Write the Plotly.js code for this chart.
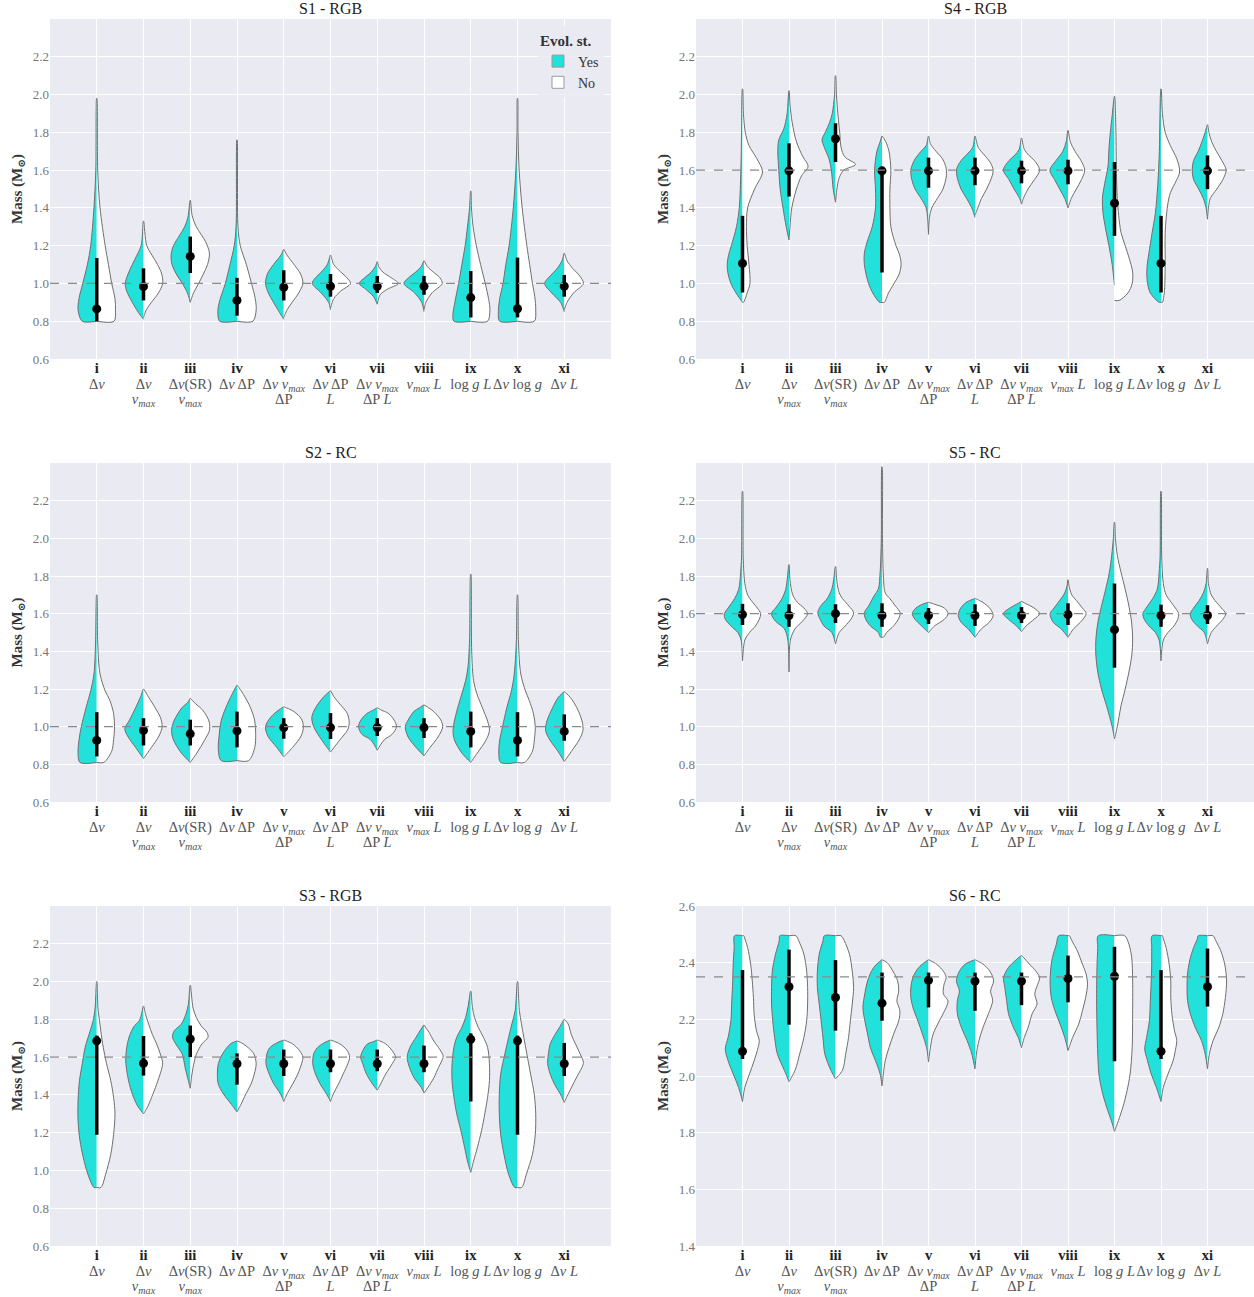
<!DOCTYPE html>
<html>
<head>
<meta charset="utf-8">
<script src="https://cdn.plot.ly/plotly-3.0.1.min.js"></script>
<style>html,body{margin:0;padding:0;background:#fff;}#chart{width:1254px;height:1297px;}</style>
</head>
<body>
<div id="chart"></div>
<script>
// ---------- categories / tick labels ----------
const categories = ['i','ii','iii','iv','v','vi','vii','viii','ix','x','xi'];
const categoryVars = [
  ['Δ<i>ν</i>'],
  ['Δ<i>ν</i>', '<i>ν<sub>max</sub></i>'],
  ['Δ<i>ν</i>(SR)', '<i>ν<sub>max</sub></i>'],
  ['Δ<i>ν</i> ΔP'],
  ['Δ<i>ν</i> <i>ν<sub>max</sub></i>', 'ΔP'],
  ['Δ<i>ν</i> ΔP', '<i>L</i>'],
  ['Δ<i>ν</i> <i>ν<sub>max</sub></i>', 'ΔP <i>L</i>'],
  ['<i>ν<sub>max</sub></i> <i>L</i>'],
  ['log <i>g</i> <i>L</i>'],
  ['Δ<i>ν</i> log <i>g</i>'],
  ['Δ<i>ν</i> <i>L</i>']
];
const seriesNames = ['Yes', 'No'];

// ---------- data: half-violin profiles [mass, half-width] ----------
// S1 - RGB
const S1_yes = [
  [[0.80,0.31],[0.86,0.40],[0.92,0.38],[1.0,0.30],[1.1,0.2],[1.2,0.13],[1.4,0.06],[1.6,0.02],[1.98,0.003]],
  [[0.81,0.0],[0.85,0.12],[0.9,0.24],[0.96,0.36],[1.0,0.39],[1.05,0.33],[1.1,0.24],[1.15,0.14],[1.2,0.05],[1.33,0.003]],
  [[0.9,0.0],[0.95,0.06],[1.0,0.17],[1.05,0.3],[1.1,0.39],[1.15,0.41],[1.2,0.36],[1.25,0.24],[1.3,0.12],[1.35,0.05],[1.44,0.003]],
  [[0.8,0.37],[0.85,0.41],[0.9,0.38],[1.0,0.25],[1.1,0.15],[1.2,0.06],[1.3,0.02],[1.76,0.003]],
  [[0.81,0.0],[0.85,0.1],[0.9,0.22],[0.95,0.33],[1.0,0.39],[1.05,0.35],[1.1,0.22],[1.15,0.06],[1.18,0.003]],
  [[0.86,0.0],[0.9,0.04],[0.95,0.2],[1.0,0.39],[1.03,0.32],[1.06,0.2],[1.1,0.07],[1.15,0.003]],
  [[0.89,0.0],[0.93,0.08],[0.97,0.25],[1.0,0.385],[1.03,0.27],[1.06,0.13],[1.09,0.04],[1.115,0.003]],
  [[0.85,0.0],[0.9,0.05],[0.95,0.2],[1.0,0.43],[1.03,0.33],[1.06,0.18],[1.09,0.06],[1.12,0.003]],
  [[0.8,0.36],[0.84,0.38],[0.9,0.34],[1.0,0.26],[1.1,0.19],[1.2,0.12],[1.3,0.07],[1.4,0.025],[1.49,0.003]],
  [[0.8,0.38],[0.85,0.41],[0.92,0.38],[1.0,0.31],[1.1,0.25],[1.2,0.18],[1.4,0.09],[1.6,0.035],[1.8,0.01],[1.98,0.003]],
  [[0.85,0.0],[0.9,0.08],[0.95,0.27],[1.0,0.42],[1.04,0.3],[1.08,0.15],[1.12,0.05],[1.16,0.003]]
];
const S1_no = [
  [[0.80,0.37],[0.86,0.40],[0.92,0.39],[1.0,0.32],[1.1,0.25],[1.2,0.18],[1.4,0.07],[1.6,0.02],[1.98,0.003]],
  [[0.82,0.0],[0.86,0.06],[0.9,0.17],[0.95,0.32],[1.0,0.41],[1.05,0.39],[1.1,0.3],[1.15,0.18],[1.2,0.07],[1.33,0.003]],
  [[0.9,0.0],[0.95,0.07],[1.0,0.18],[1.05,0.28],[1.1,0.37],[1.16,0.41],[1.22,0.33],[1.3,0.13],[1.36,0.04],[1.44,0.003]],
  [[0.8,0.34],[0.86,0.41],[0.92,0.39],[1.0,0.31],[1.1,0.2],[1.2,0.07],[1.3,0.02],[1.76,0.003]],
  [[0.82,0.0],[0.86,0.07],[0.9,0.18],[0.95,0.32],[1.0,0.41],[1.05,0.36],[1.1,0.22],[1.15,0.07],[1.18,0.003]],
  [[0.87,0.0],[0.92,0.07],[0.96,0.22],[1.0,0.43],[1.03,0.35],[1.07,0.18],[1.1,0.07],[1.15,0.003]],
  [[0.89,0.0],[0.94,0.06],[0.97,0.22],[1.0,0.45],[1.03,0.3],[1.06,0.12],[1.09,0.03],[1.115,0.003]],
  [[0.86,0.0],[0.9,0.04],[0.95,0.17],[1.0,0.39],[1.03,0.34],[1.06,0.2],[1.09,0.07],[1.12,0.003]],
  [[0.8,0.36],[0.86,0.41],[0.92,0.38],[1.0,0.31],[1.1,0.21],[1.2,0.12],[1.3,0.05],[1.4,0.015],[1.49,0.003]],
  [[0.8,0.36],[0.86,0.39],[0.93,0.37],[1.0,0.32],[1.1,0.26],[1.2,0.2],[1.4,0.1],[1.6,0.035],[1.8,0.01],[1.98,0.003]],
  [[0.86,0.0],[0.9,0.06],[0.95,0.2],[1.0,0.41],[1.04,0.33],[1.08,0.18],[1.12,0.06],[1.16,0.003]]
];
const S1_med = [0.865,0.984,1.143,0.91,0.98,0.985,0.985,0.985,0.925,0.866,0.985];
const S1_lo  = [0.80,0.91,1.055,0.829,0.91,0.93,0.95,0.94,0.82,0.82,0.93];
const S1_hi  = [1.135,1.08,1.248,1.03,1.07,1.05,1.04,1.04,1.066,1.137,1.045];

// S2 - RC
const S2_yes = [
  [[0.81,0.36],[0.86,0.4],[0.93,0.38],[1.0,0.33],[1.1,0.23],[1.19,0.13],[1.28,0.06],[1.45,0.025],[1.7,0.003]],
  [[0.83,0.0],[0.89,0.17],[0.95,0.34],[0.99,0.4],[1.03,0.31],[1.1,0.17],[1.16,0.06],[1.2,0.003]],
  [[0.81,0.0],[0.86,0.19],[0.93,0.36],[0.98,0.4],[1.03,0.35],[1.1,0.18],[1.13,0.05],[1.15,0.003]],
  [[0.82,0.34],[0.88,0.4],[0.96,0.38],[1.03,0.34],[1.1,0.24],[1.17,0.11],[1.22,0.003]],
  [[0.84,0.0],[0.89,0.15],[0.95,0.34],[1.0,0.39],[1.05,0.28],[1.09,0.1],[1.105,0.003]],
  [[0.865,0.0],[0.93,0.19],[1.0,0.36],[1.05,0.4],[1.1,0.32],[1.16,0.14],[1.19,0.003]],
  [[0.875,0.0],[0.93,0.14],[0.96,0.33],[1.0,0.4],[1.035,0.35],[1.07,0.22],[1.09,0.07],[1.1,0.003]],
  [[0.845,0.0],[0.89,0.17],[0.945,0.34],[1.0,0.4],[1.035,0.34],[1.08,0.22],[1.1,0.1],[1.115,0.003]],
  [[0.81,0.0],[0.86,0.19],[0.93,0.35],[0.98,0.38],[1.03,0.35],[1.1,0.28],[1.175,0.19],[1.245,0.11],[1.315,0.06],[1.46,0.025],[1.81,0.003]],
  [[0.81,0.36],[0.86,0.4],[0.93,0.38],[1.0,0.32],[1.1,0.23],[1.19,0.13],[1.28,0.07],[1.45,0.025],[1.7,0.003]],
  [[0.815,0.0],[0.875,0.15],[0.93,0.31],[0.98,0.4],[1.03,0.37],[1.1,0.25],[1.155,0.13],[1.185,0.003]]
];
const S2_no = [
  [[0.81,0.15],[0.87,0.32],[0.93,0.36],[1.0,0.38],[1.07,0.36],[1.14,0.28],[1.19,0.18],[1.28,0.07],[1.45,0.02],[1.7,0.003]],
  [[0.83,0.0],[0.89,0.17],[0.95,0.33],[1.0,0.4],[1.05,0.36],[1.1,0.25],[1.16,0.1],[1.2,0.003]],
  [[0.81,0.0],[0.86,0.14],[0.93,0.31],[0.98,0.41],[1.03,0.4],[1.09,0.26],[1.12,0.12],[1.15,0.003]],
  [[0.82,0.25],[0.89,0.38],[0.96,0.4],[1.03,0.38],[1.1,0.29],[1.17,0.14],[1.22,0.003]],
  [[0.84,0.0],[0.89,0.19],[0.95,0.37],[1.0,0.42],[1.04,0.38],[1.08,0.22],[1.105,0.003]],
  [[0.865,0.0],[0.93,0.2],[0.98,0.36],[1.015,0.4],[1.07,0.36],[1.12,0.2],[1.16,0.07],[1.19,0.003]],
  [[0.875,0.0],[0.93,0.15],[0.96,0.32],[1.0,0.41],[1.035,0.36],[1.07,0.24],[1.09,0.07],[1.1,0.003]],
  [[0.845,0.0],[0.89,0.13],[0.945,0.3],[1.0,0.4],[1.035,0.36],[1.08,0.21],[1.1,0.1],[1.115,0.003]],
  [[0.81,0.0],[0.86,0.14],[0.93,0.33],[0.98,0.4],[1.03,0.36],[1.1,0.25],[1.175,0.13],[1.245,0.06],[1.4,0.02],[1.81,0.003]],
  [[0.81,0.15],[0.87,0.32],[0.93,0.36],[1.0,0.38],[1.07,0.34],[1.14,0.25],[1.19,0.17],[1.28,0.07],[1.45,0.02],[1.7,0.003]],
  [[0.815,0.0],[0.875,0.17],[0.93,0.32],[0.98,0.4],[1.03,0.38],[1.1,0.27],[1.155,0.13],[1.185,0.003]]
];
const S2_med = [0.927,0.98,0.962,0.978,0.995,0.995,0.995,0.995,0.975,0.927,0.975];
const S2_lo  = [0.842,0.9,0.9,0.89,0.936,0.935,0.95,0.94,0.89,0.842,0.925];
const S2_hi  = [1.077,1.045,1.037,1.08,1.045,1.072,1.045,1.045,1.08,1.077,1.065];

// S3 - RGB
const S3_yes = [
  [[0.91,0.06],[0.98,0.19],[1.07,0.29],[1.16,0.36],[1.26,0.4],[1.37,0.4],[1.475,0.37],[1.565,0.31],[1.65,0.25],[1.74,0.14],[1.79,0.08],[1.86,0.035],[2.0,0.003]],
  [[1.3,0.0],[1.335,0.11],[1.385,0.21],[1.455,0.3],[1.53,0.36],[1.58,0.38],[1.65,0.36],[1.705,0.31],[1.76,0.21],[1.795,0.085],[1.87,0.003]],
  [[1.435,0.0],[1.475,0.04],[1.545,0.11],[1.615,0.17],[1.67,0.31],[1.705,0.38],[1.74,0.34],[1.775,0.19],[1.83,0.09],[1.88,0.04],[1.98,0.003]],
  [[1.31,0.0],[1.35,0.12],[1.405,0.29],[1.457,0.4],[1.51,0.42],[1.565,0.4],[1.617,0.31],[1.67,0.14],[1.685,0.003]],
  [[1.365,0.0],[1.405,0.07],[1.457,0.21],[1.51,0.31],[1.565,0.38],[1.617,0.36],[1.65,0.3],[1.675,0.15],[1.69,0.003]],
  [[1.365,0.0],[1.405,0.085],[1.457,0.22],[1.51,0.32],[1.565,0.38],[1.617,0.36],[1.65,0.28],[1.675,0.14],[1.69,0.003]],
  [[1.425,0.0],[1.457,0.1],[1.51,0.23],[1.565,0.31],[1.6,0.355],[1.634,0.31],[1.67,0.21],[1.68,0.1],[1.69,0.003]],
  [[1.41,0.0],[1.44,0.06],[1.49,0.21],[1.545,0.31],[1.6,0.36],[1.652,0.3],[1.705,0.17],[1.74,0.085],[1.77,0.003]],
  [[0.99,0.0],[1.05,0.07],[1.12,0.13],[1.21,0.21],[1.3,0.3],[1.387,0.36],[1.475,0.4],[1.565,0.4],[1.652,0.36],[1.705,0.3],[1.758,0.19],[1.81,0.11],[1.864,0.06],[1.95,0.003]],
  [[0.91,0.06],[0.98,0.19],[1.086,0.29],[1.19,0.36],[1.3,0.39],[1.4,0.39],[1.51,0.36],[1.617,0.27],[1.705,0.19],[1.776,0.12],[1.846,0.05],[2.0,0.003]],
  [[1.36,0.0],[1.405,0.085],[1.457,0.21],[1.51,0.3],[1.565,0.355],[1.617,0.34],[1.67,0.3],[1.714,0.21],[1.758,0.1],[1.8,0.003]]
];
const S3_no = [
  [[0.91,0.09],[0.98,0.19],[1.086,0.3],[1.19,0.36],[1.3,0.39],[1.387,0.36],[1.475,0.3],[1.565,0.21],[1.65,0.14],[1.74,0.085],[1.79,0.06],[1.86,0.025],[2.0,0.003]],
  [[1.3,0.0],[1.335,0.085],[1.385,0.17],[1.455,0.28],[1.53,0.38],[1.57,0.41],[1.617,0.36],[1.67,0.28],[1.72,0.19],[1.775,0.11],[1.83,0.04],[1.87,0.003]],
  [[1.435,0.0],[1.5,0.03],[1.545,0.06],[1.615,0.13],[1.67,0.25],[1.705,0.38],[1.73,0.36],[1.767,0.23],[1.81,0.13],[1.86,0.06],[1.98,0.003]],
  [[1.31,0.0],[1.35,0.085],[1.405,0.19],[1.457,0.3],[1.51,0.37],[1.565,0.41],[1.617,0.36],[1.65,0.24],[1.675,0.1],[1.685,0.003]],
  [[1.365,0.0],[1.405,0.07],[1.457,0.19],[1.51,0.3],[1.565,0.38],[1.6,0.41],[1.634,0.34],[1.67,0.19],[1.69,0.003]],
  [[1.365,0.0],[1.405,0.06],[1.457,0.17],[1.51,0.27],[1.565,0.37],[1.6,0.41],[1.634,0.36],[1.67,0.2],[1.69,0.003]],
  [[1.425,0.0],[1.457,0.07],[1.51,0.18],[1.565,0.32],[1.6,0.39],[1.634,0.32],[1.67,0.18],[1.69,0.003]],
  [[1.41,0.0],[1.44,0.085],[1.49,0.21],[1.545,0.31],[1.58,0.38],[1.605,0.41],[1.64,0.34],[1.685,0.21],[1.73,0.11],[1.755,0.04],[1.77,0.003]],
  [[0.99,0.0],[1.05,0.06],[1.12,0.14],[1.21,0.23],[1.3,0.3],[1.387,0.36],[1.475,0.4],[1.565,0.4],[1.652,0.36],[1.705,0.27],[1.758,0.16],[1.81,0.08],[1.864,0.035],[1.95,0.003]],
  [[0.91,0.09],[0.98,0.19],[1.086,0.32],[1.19,0.38],[1.3,0.39],[1.4,0.36],[1.51,0.28],[1.617,0.2],[1.705,0.135],[1.776,0.085],[1.846,0.04],[2.0,0.003]],
  [[1.36,0.0],[1.405,0.085],[1.457,0.19],[1.51,0.3],[1.546,0.38],[1.572,0.41],[1.617,0.34],[1.67,0.24],[1.72,0.15],[1.775,0.085],[1.8,0.003]]
];
const S3_med = [1.686,1.567,1.696,1.565,1.565,1.565,1.565,1.565,1.694,1.686,1.565];
const S3_lo  = [1.189,1.502,1.6,1.454,1.5,1.52,1.525,1.52,1.365,1.189,1.5];
const S3_hi  = [1.714,1.712,1.767,1.62,1.64,1.64,1.64,1.661,1.726,1.714,1.675];

// S4 - RGB
const S4_yes = [
  [[0.9,0.0],[0.95,0.14],[1.0,0.25],[1.05,0.31],[1.1,0.33],[1.15,0.3],[1.2,0.24],[1.3,0.13],[1.4,0.07],[1.6,0.035],[1.8,0.02],[2.03,0.003]],
  [[1.23,0.0],[1.3,0.06],[1.4,0.13],[1.5,0.19],[1.6,0.22],[1.7,0.24],[1.76,0.22],[1.82,0.11],[1.9,0.04],[2.02,0.003]],
  [[1.43,0.0],[1.5,0.05],[1.6,0.09],[1.66,0.14],[1.72,0.24],[1.76,0.29],[1.8,0.22],[1.85,0.13],[1.9,0.07],[2.0,0.02],[2.1,0.003]],
  [[0.9,0.05],[0.95,0.2],[1.0,0.29],[1.1,0.38],[1.16,0.38],[1.22,0.32],[1.3,0.21],[1.4,0.14],[1.5,0.14],[1.6,0.16],[1.7,0.11],[1.75,0.04],[1.78,0.003]],
  [[1.26,0.0],[1.35,0.02],[1.4,0.05],[1.45,0.16],[1.5,0.29],[1.55,0.36],[1.6,0.38],[1.65,0.31],[1.7,0.16],[1.73,0.05],[1.78,0.003]],
  [[1.35,0.0],[1.4,0.07],[1.45,0.18],[1.5,0.3],[1.57,0.39],[1.61,0.39],[1.65,0.3],[1.69,0.15],[1.72,0.05],[1.78,0.003]],
  [[1.42,0.0],[1.45,0.04],[1.5,0.16],[1.55,0.27],[1.6,0.39],[1.65,0.27],[1.68,0.14],[1.71,0.05],[1.77,0.003]],
  [[1.4,0.0],[1.45,0.07],[1.5,0.18],[1.55,0.29],[1.6,0.39],[1.65,0.26],[1.7,0.11],[1.75,0.04],[1.81,0.003]],
  [[0.99,0.0],[1.1,0.05],[1.2,0.12],[1.3,0.2],[1.38,0.25],[1.45,0.26],[1.53,0.21],[1.62,0.14],[1.71,0.12],[1.8,0.09],[1.89,0.05],[1.99,0.003]],
  [[0.9,0.04],[0.95,0.23],[1.02,0.3],[1.09,0.3],[1.16,0.26],[1.27,0.19],[1.375,0.12],[1.52,0.07],[1.7,0.035],[1.85,0.025],[2.03,0.003]],
  [[1.34,0.0],[1.4,0.03],[1.45,0.09],[1.5,0.19],[1.55,0.3],[1.6,0.33],[1.65,0.3],[1.7,0.2],[1.75,0.12],[1.8,0.05],[1.84,0.003]]
];
const S4_no = [
  [[0.9,0.02],[0.95,0.1],[1.0,0.16],[1.1,0.14],[1.2,0.1],[1.3,0.085],[1.4,0.11],[1.5,0.26],[1.59,0.43],[1.66,0.31],[1.73,0.14],[1.8,0.06],[1.9,0.02],[2.03,0.003]],
  [[1.23,0.0],[1.3,0.02],[1.4,0.06],[1.5,0.16],[1.57,0.27],[1.62,0.41],[1.67,0.3],[1.75,0.16],[1.85,0.07],[1.95,0.02],[2.02,0.003]],
  [[1.43,0.0],[1.5,0.03],[1.56,0.08],[1.6,0.18],[1.63,0.43],[1.67,0.2],[1.72,0.12],[1.8,0.09],[1.9,0.05],[2.0,0.02],[2.1,0.003]],
  [[0.9,0.05],[0.95,0.14],[1.0,0.26],[1.05,0.37],[1.1,0.41],[1.15,0.38],[1.2,0.3],[1.3,0.19],[1.4,0.17],[1.5,0.17],[1.6,0.19],[1.7,0.15],[1.75,0.08],[1.78,0.003]],
  [[1.26,0.0],[1.35,0.02],[1.4,0.07],[1.45,0.19],[1.5,0.31],[1.57,0.385],[1.62,0.37],[1.66,0.3],[1.7,0.16],[1.74,0.04],[1.78,0.003]],
  [[1.36,0.0],[1.4,0.06],[1.45,0.14],[1.5,0.25],[1.57,0.37],[1.6,0.39],[1.64,0.33],[1.68,0.2],[1.72,0.07],[1.78,0.003]],
  [[1.42,0.0],[1.45,0.04],[1.5,0.14],[1.55,0.28],[1.6,0.39],[1.65,0.28],[1.68,0.15],[1.71,0.06],[1.77,0.003]],
  [[1.4,0.0],[1.45,0.07],[1.5,0.18],[1.55,0.29],[1.6,0.36],[1.65,0.28],[1.7,0.15],[1.75,0.05],[1.81,0.003]],
  [[0.91,0.1],[0.95,0.29],[1.0,0.38],[1.06,0.39],[1.13,0.32],[1.2,0.23],[1.27,0.14],[1.36,0.09],[1.45,0.06],[1.6,0.04],[1.8,0.03],[1.99,0.003]],
  [[0.9,0.03],[0.95,0.07],[1.09,0.09],[1.27,0.09],[1.41,0.14],[1.48,0.2],[1.53,0.3],[1.59,0.4],[1.66,0.34],[1.73,0.2],[1.8,0.09],[1.9,0.03],[2.03,0.003]],
  [[1.34,0.0],[1.4,0.02],[1.45,0.06],[1.5,0.2],[1.55,0.33],[1.6,0.4],[1.65,0.31],[1.7,0.19],[1.75,0.09],[1.8,0.03],[1.84,0.003]]
];
const S4_med = [1.106,1.596,1.766,1.596,1.596,1.596,1.596,1.596,1.425,1.106,1.596];
const S4_lo  = [0.952,1.46,1.643,1.058,1.507,1.52,1.53,1.525,1.252,0.952,1.499];
const S4_hi  = [1.358,1.742,1.848,1.6,1.666,1.666,1.65,1.655,1.643,1.358,1.678];

// S5 - RC
const S5_yes = [
  [[1.35,0.0],[1.46,0.03],[1.5,0.1],[1.535,0.25],[1.57,0.37],[1.6,0.39],[1.63,0.31],[1.68,0.17],[1.73,0.08],[1.82,0.04],[1.9,0.02],[2.25,0.003]],
  [[1.29,0.0],[1.46,0.025],[1.52,0.1],[1.56,0.29],[1.6,0.38],[1.63,0.29],[1.68,0.15],[1.73,0.07],[1.8,0.03],[1.86,0.003]],
  [[1.44,0.0],[1.5,0.08],[1.535,0.25],[1.57,0.33],[1.605,0.38],[1.64,0.32],[1.68,0.18],[1.73,0.08],[1.78,0.04],[1.85,0.003]],
  [[1.475,0.03],[1.5,0.08],[1.535,0.25],[1.57,0.35],[1.605,0.38],[1.64,0.29],[1.695,0.17],[1.73,0.08],[1.82,0.04],[2.0,0.015],[2.38,0.003]],
  [[1.5,0.0],[1.535,0.15],[1.57,0.29],[1.6,0.35],[1.63,0.27],[1.65,0.13],[1.66,0.003]],
  [[1.475,0.0],[1.52,0.15],[1.555,0.3],[1.59,0.36],[1.625,0.32],[1.66,0.19],[1.68,0.003]],
  [[1.505,0.0],[1.535,0.11],[1.57,0.28],[1.6,0.39],[1.63,0.25],[1.655,0.07],[1.665,0.003]],
  [[1.475,0.0],[1.52,0.15],[1.555,0.32],[1.6,0.385],[1.63,0.3],[1.68,0.15],[1.71,0.07],[1.75,0.02],[1.78,0.003]],
  [[0.935,0.0],[1.0,0.05],[1.11,0.17],[1.2,0.28],[1.29,0.36],[1.375,0.4],[1.465,0.4],[1.55,0.36],[1.64,0.28],[1.73,0.19],[1.82,0.11],[1.91,0.06],[2.0,0.025],[2.085,0.003]],
  [[1.35,0.0],[1.46,0.04],[1.5,0.12],[1.535,0.26],[1.57,0.36],[1.6,0.39],[1.63,0.32],[1.68,0.18],[1.73,0.08],[1.82,0.04],[1.9,0.02],[2.25,0.003]],
  [[1.44,0.0],[1.5,0.07],[1.535,0.22],[1.57,0.34],[1.6,0.37],[1.63,0.3],[1.67,0.18],[1.71,0.09],[1.76,0.03],[1.84,0.003]]
];
const S5_no = [
  [[1.35,0.0],[1.46,0.05],[1.5,0.15],[1.535,0.28],[1.57,0.36],[1.6,0.39],[1.63,0.32],[1.66,0.22],[1.7,0.11],[1.76,0.05],[1.9,0.015],[2.25,0.003]],
  [[1.29,0.0],[1.46,0.03],[1.52,0.13],[1.56,0.29],[1.6,0.4],[1.63,0.32],[1.66,0.18],[1.7,0.08],[1.78,0.02],[1.86,0.003]],
  [[1.44,0.0],[1.5,0.08],[1.535,0.21],[1.57,0.33],[1.605,0.39],[1.64,0.29],[1.68,0.15],[1.71,0.08],[1.77,0.03],[1.85,0.003]],
  [[1.475,0.03],[1.5,0.1],[1.535,0.25],[1.57,0.35],[1.605,0.39],[1.64,0.29],[1.68,0.17],[1.71,0.07],[1.8,0.03],[2.0,0.01],[2.38,0.003]],
  [[1.5,0.0],[1.535,0.13],[1.57,0.34],[1.6,0.42],[1.63,0.34],[1.65,0.13],[1.66,0.003]],
  [[1.475,0.0],[1.52,0.14],[1.555,0.31],[1.59,0.39],[1.625,0.33],[1.66,0.17],[1.68,0.003]],
  [[1.505,0.0],[1.535,0.1],[1.57,0.27],[1.6,0.39],[1.63,0.27],[1.655,0.08],[1.665,0.003]],
  [[1.475,0.0],[1.52,0.12],[1.555,0.27],[1.6,0.39],[1.63,0.31],[1.67,0.18],[1.7,0.08],[1.75,0.02],[1.78,0.003]],
  [[0.935,0.0],[1.0,0.06],[1.11,0.14],[1.2,0.23],[1.29,0.31],[1.375,0.37],[1.465,0.39],[1.55,0.37],[1.64,0.31],[1.73,0.23],[1.82,0.14],[1.91,0.06],[2.0,0.02],[2.085,0.003]],
  [[1.35,0.0],[1.46,0.05],[1.5,0.15],[1.535,0.28],[1.57,0.36],[1.6,0.38],[1.63,0.31],[1.66,0.22],[1.7,0.11],[1.76,0.05],[1.9,0.015],[2.25,0.003]],
  [[1.44,0.0],[1.5,0.08],[1.535,0.2],[1.57,0.33],[1.6,0.39],[1.63,0.3],[1.67,0.16],[1.7,0.08],[1.76,0.02],[1.84,0.003]]
];
const S5_med = [1.595,1.59,1.6,1.59,1.59,1.59,1.59,1.595,1.515,1.59,1.59];
const S5_lo  = [1.54,1.53,1.55,1.53,1.545,1.535,1.55,1.54,1.313,1.53,1.545];
const S5_hi  = [1.652,1.65,1.65,1.655,1.63,1.65,1.635,1.655,1.76,1.648,1.645];

// S6 - RC
const S6_yes = [
  [[1.91,0.0],[1.96,0.085],[2.007,0.2],[2.054,0.31],[2.095,0.37],[2.136,0.31],[2.195,0.25],[2.265,0.23],[2.336,0.21],[2.395,0.2],[2.453,0.18],[2.495,0.17]],
  [[1.98,0.0],[2.02,0.1],[2.078,0.25],[2.136,0.31],[2.195,0.35],[2.254,0.375],[2.313,0.375],[2.37,0.36],[2.43,0.29],[2.477,0.21],[2.495,0.2]],
  [[1.99,0.0],[2.02,0.1],[2.078,0.23],[2.136,0.27],[2.195,0.31],[2.254,0.35],[2.313,0.39],[2.37,0.39],[2.43,0.35],[2.477,0.27],[2.495,0.24]],
  [[1.965,0.0],[2.007,0.04],[2.054,0.14],[2.1,0.25],[2.148,0.31],[2.195,0.37],[2.242,0.41],[2.29,0.37],[2.336,0.31],[2.383,0.18],[2.41,0.003]],
  [[2.05,0.0],[2.1,0.04],[2.148,0.13],[2.195,0.23],[2.242,0.335],[2.277,0.38],[2.313,0.38],[2.348,0.335],[2.383,0.21],[2.41,0.003]],
  [[2.025,0.0],[2.078,0.07],[2.125,0.17],[2.17,0.29],[2.22,0.38],[2.266,0.38],[2.3,0.335],[2.336,0.4],[2.37,0.335],[2.395,0.21],[2.41,0.003]],
  [[2.1,0.0],[2.136,0.07],[2.17,0.17],[2.22,0.28],[2.266,0.32],[2.313,0.36],[2.348,0.385],[2.383,0.28],[2.405,0.15],[2.425,0.003]],
  [[2.09,0.0],[2.136,0.07],[2.183,0.17],[2.23,0.28],[2.277,0.36],[2.324,0.385],[2.37,0.375],[2.418,0.335],[2.465,0.25],[2.495,0.2]],
  [[1.805,0.0],[1.843,0.07],[1.89,0.17],[1.948,0.27],[2.007,0.335],[2.078,0.36],[2.16,0.375],[2.277,0.385],[2.395,0.375],[2.453,0.36],[2.495,0.35]],
  [[1.91,0.0],[1.96,0.1],[2.007,0.21],[2.054,0.29],[2.095,0.35],[2.136,0.31],[2.195,0.25],[2.265,0.23],[2.336,0.21],[2.395,0.2],[2.453,0.2],[2.495,0.19]],
  [[2.025,0.0],[2.078,0.05],[2.125,0.13],[2.17,0.26],[2.22,0.37],[2.266,0.43],[2.313,0.44],[2.36,0.43],[2.406,0.385],[2.453,0.3],[2.483,0.22],[2.495,0.2]]
];
const S6_no = [
  [[1.91,0.0],[1.96,0.05],[2.007,0.15],[2.054,0.25],[2.1,0.335],[2.125,0.36],[2.16,0.3],[2.218,0.25],[2.277,0.235],[2.336,0.21],[2.395,0.175],[2.453,0.11],[2.49,0.04],[2.495,0.03]],
  [[1.98,0.0],[2.02,0.13],[2.078,0.23],[2.136,0.32],[2.195,0.38],[2.254,0.4],[2.313,0.4],[2.37,0.38],[2.43,0.32],[2.477,0.21],[2.495,0.15]],
  [[1.99,0.0],[2.02,0.15],[2.078,0.22],[2.136,0.28],[2.195,0.32],[2.254,0.36],[2.313,0.39],[2.37,0.36],[2.43,0.3],[2.477,0.19],[2.495,0.12]],
  [[1.965,0.0],[2.054,0.07],[2.1,0.15],[2.148,0.25],[2.195,0.36],[2.23,0.385],[2.265,0.32],[2.3,0.36],[2.336,0.335],[2.37,0.235],[2.4,0.11],[2.41,0.003]],
  [[2.05,0.0],[2.1,0.04],[2.148,0.1],[2.195,0.235],[2.242,0.38],[2.265,0.42],[2.29,0.32],[2.324,0.335],[2.348,0.38],[2.37,0.32],[2.395,0.17],[2.41,0.003]],
  [[2.025,0.0],[2.078,0.03],[2.125,0.085],[2.17,0.17],[2.22,0.29],[2.266,0.38],[2.3,0.335],[2.336,0.4],[2.37,0.32],[2.395,0.17],[2.41,0.003]],
  [[2.1,0.0],[2.136,0.06],[2.17,0.14],[2.22,0.23],[2.254,0.335],[2.29,0.285],[2.324,0.35],[2.348,0.39],[2.37,0.31],[2.395,0.17],[2.425,0.003]],
  [[2.09,0.0],[2.136,0.1],[2.183,0.23],[2.23,0.31],[2.277,0.38],[2.324,0.42],[2.36,0.39],[2.395,0.31],[2.442,0.2],[2.477,0.085],[2.495,0.03]],
  [[1.805,0.0],[1.843,0.085],[1.89,0.18],[1.948,0.27],[2.007,0.335],[2.1,0.38],[2.218,0.39],[2.336,0.39],[2.418,0.37],[2.465,0.31],[2.495,0.22]],
  [[1.91,0.0],[1.96,0.05],[2.007,0.15],[2.054,0.26],[2.1,0.32],[2.125,0.34],[2.16,0.29],[2.218,0.235],[2.277,0.21],[2.336,0.21],[2.395,0.175],[2.453,0.11],[2.49,0.04],[2.495,0.03]],
  [[2.025,0.0],[2.078,0.04],[2.125,0.12],[2.17,0.24],[2.22,0.33],[2.277,0.385],[2.336,0.41],[2.395,0.37],[2.442,0.285],[2.477,0.18],[2.495,0.12]]
];
const S6_med = [2.087,2.315,2.277,2.257,2.338,2.335,2.335,2.344,2.352,2.087,2.315];
const S6_lo  = [2.06,2.181,2.16,2.195,2.242,2.23,2.25,2.26,2.052,2.06,2.245];
const S6_hi  = [2.374,2.446,2.409,2.365,2.365,2.365,2.365,2.425,2.456,2.374,2.45];

const panelTitles = ['S1 - RGB','S2 - RC','S3 - RGB','S4 - RGB','S5 - RC','S6 - RC'];
const refMass = [1.0, 1.0, 1.6, 1.6, 1.6, 2.35];
const yTicksA = [0.6,0.8,1.0,1.2,1.4,1.6,1.8,2.0,2.2];
const yTicksB = [1.4,1.6,1.8,2.0,2.2,2.4,2.6];

// ---------- build ----------
const panels = [
  {yes:S1_yes,no:S1_no,med:S1_med,lo:S1_lo,hi:S1_hi,col:0,row:0,yr:[0.6,2.4],yt:yTicksA},
  {yes:S2_yes,no:S2_no,med:S2_med,lo:S2_lo,hi:S2_hi,col:0,row:1,yr:[0.6,2.4],yt:yTicksA},
  {yes:S3_yes,no:S3_no,med:S3_med,lo:S3_lo,hi:S3_hi,col:0,row:2,yr:[0.6,2.4],yt:yTicksA},
  {yes:S4_yes,no:S4_no,med:S4_med,lo:S4_lo,hi:S4_hi,col:1,row:0,yr:[0.6,2.4],yt:yTicksA},
  {yes:S5_yes,no:S5_no,med:S5_med,lo:S5_lo,hi:S5_hi,col:1,row:1,yr:[0.6,2.4],yt:yTicksA},
  {yes:S6_yes,no:S6_no,med:S6_med,lo:S6_lo,hi:S6_hi,col:1,row:2,yr:[1.4,2.6],yt:yTicksB}
];

const W = 1254, H = 1297;
const colPx = [[50, 611], [696, 1254]];
const rowPx = [[19, 359], [463, 802], [906, 1246]];
const CYAN = '#22E0DA', EDGE = '#6f6f6f', FONT = 'Liberation Serif, DejaVu Serif, serif';

const SP = (s, c) => '<span style="font-size:14.5px;color:' + c + '">' + s + '</span>';
const tickText = categories.map((c, i) =>
  SP('<b>' + c + '</b>', '#222') + '<br>' + categoryVars[i].map(s => SP(s, '#555')).join('<br>'));

function halfShape(prof, j, sign) {
  const xs = [j], ys = [prof[0][0]];
  prof.forEach(p => { xs.push(j + sign * p[1]); ys.push(p[0]); });
  xs.push(j); ys.push(prof[prof.length - 1][0]);
  return {xs, ys};
}

const traces = [];
// legend swatches (no data drawn)
[CYAN, '#ffffff'].forEach((col, s) => {
  traces.push({type: 'bar', x: [null], y: [null], xaxis: 'x', yaxis: 'y', name: seriesNames[s],
    marker: {color: col, line: {color: '#9a9a9a', width: 1}}, showlegend: true, hoverinfo: 'skip'});
});

const layout = {
  width: W, height: H,
  margin: {l: 0, r: 0, t: 0, b: 0},
  paper_bgcolor: '#ffffff',
  plot_bgcolor: '#EAEAF2',
  font: {family: FONT, size: 13, color: '#333'},
  showlegend: true,
  legend: {
    x: 604 / W, xanchor: 'right', y: 1 - 26 / H, yanchor: 'top',
    bgcolor: 'rgba(234,234,242,0.85)', borderwidth: 0,
    title: {text: '<b>Evol. st.</b>', font: {size: 15, color: '#333'}, side: 'top'},
    font: {size: 14, color: '#333'}, itemwidth: 30, tracegroupgap: 0
  },
  shapes: [], annotations: []
};

panels.forEach((p, k) => {
  const ax = k + 1;
  const xa = ax === 1 ? 'x' : 'x' + ax, ya = ax === 1 ? 'y' : 'y' + ax;
  const xkey = 'xaxis' + (ax === 1 ? '' : ax), ykey = 'yaxis' + (ax === 1 ? '' : ax);
  const cp = colPx[p.col], rp = rowPx[p.row];
  layout[xkey] = {
    domain: [cp[0] / W, cp[1] / W], anchor: ya,
    range: [-1, 11], tickvals: categories.map((c, i) => i), ticktext: tickText,
    tickangle: 0, ticklabelstandoff: 1,
    showgrid: true, gridcolor: '#ffffff', gridwidth: 1, zeroline: false, showline: false,
    ticks: '', tickfont: {family: FONT, size: 12, color: '#222'}, fixedrange: true
  };
  layout[ykey] = {
    domain: [1 - rp[1] / H, 1 - rp[0] / H], anchor: xa,
    range: p.yr, tickvals: p.yt, ticktext: p.yt.map(v => v.toFixed(1)),
    tickangle: 0,
    showgrid: true, gridcolor: '#ffffff', gridwidth: 1, zeroline: false, showline: false,
    ticks: '', tickfont: {family: FONT, size: 13, color: '#777'},
    title: {text: '<b>Mass (M<sub>⊙</sub>)</b>', font: {family: FONT, size: 15, color: '#333'}, standoff: 6},
    fixedrange: true
  };
  [p.yes, p.no].forEach((set, s) => {
    set.forEach((prof, j) => {
      const sh = halfShape(prof, j, s === 0 ? -1 : 1);
      traces.push({
        type: 'scatter', mode: 'lines', x: sh.xs, y: sh.ys, xaxis: xa, yaxis: ya,
        fill: 'toself', fillcolor: s === 0 ? CYAN : '#ffffff',
        line: {color: EDGE, width: 1, shape: 'spline', smoothing: 0.9},
        name: seriesNames[s], showlegend: false, hoverinfo: 'skip'
      });
    });
  });
  const lx = [], ly = [];
  p.med.forEach((m, j) => { lx.push(j, j, null); ly.push(p.lo[j], p.hi[j], null); });
  traces.push({type: 'scatter', mode: 'lines', x: lx, y: ly, xaxis: xa, yaxis: ya,
    line: {color: '#000', width: 3.5}, showlegend: false, hoverinfo: 'skip'});
  traces.push({type: 'scatter', mode: 'markers', x: categories.map((c, i) => i), y: p.med, xaxis: xa, yaxis: ya,
    marker: {color: '#000', size: 9}, showlegend: false, hoverinfo: 'skip'});
  layout.shapes.push({type: 'line', xref: xa + ' domain', x0: 0, x1: 1, yref: ya, y0: refMass[k], y1: refMass[k],
    line: {color: '#8a8a8a', width: 1.2, dash: 'dash'}, layer: 'above'});
  layout.annotations.push({text: panelTitles[k], xref: xa + ' domain', x: 0.5, yref: ya + ' domain', y: 1,
    yanchor: 'bottom', xanchor: 'center', yshift: 0, showarrow: false,
    font: {family: FONT, size: 16, color: '#222'}});
});

Plotly.newPlot('chart', traces, layout, {staticPlot: true, displayModeBar: false});
</script>
</body>
</html>
